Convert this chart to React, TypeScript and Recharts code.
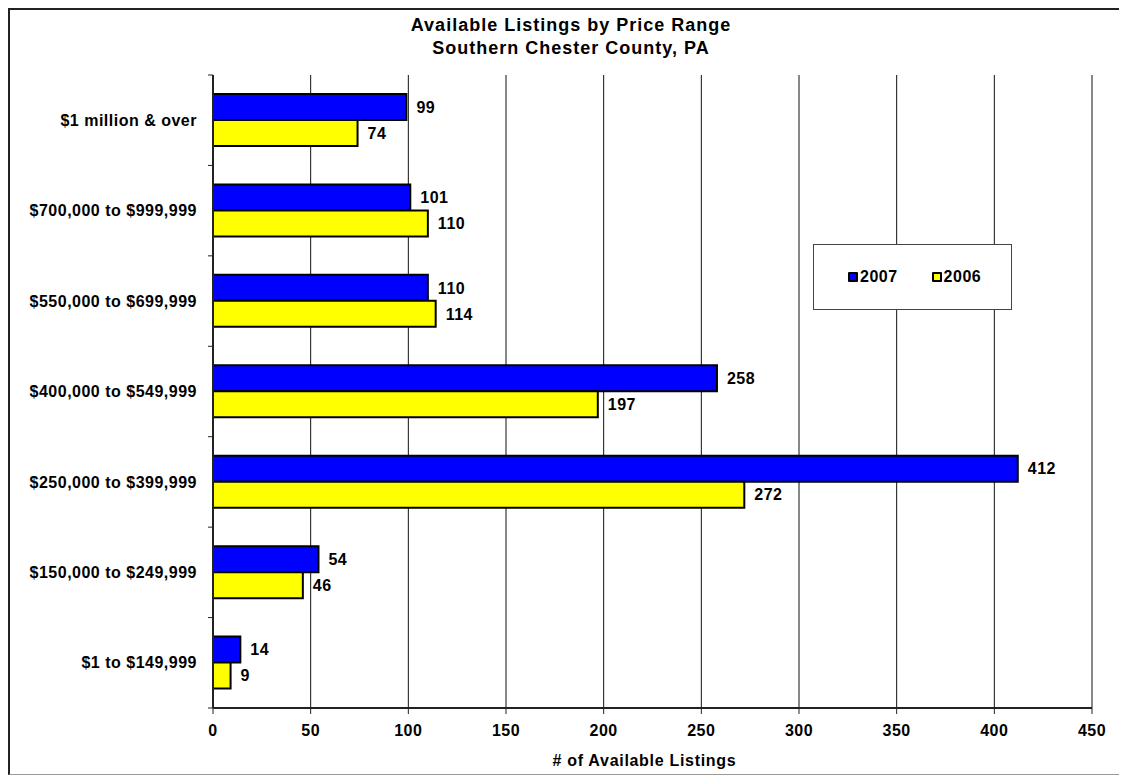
import React from 'react';
import { BarChart, Bar, XAxis, YAxis, CartesianGrid, Legend, LabelList } from 'recharts';

const categories = [
  '$1 million & over',
  '$700,000 to $999,999',
  '$550,000 to $699,999',
  '$400,000 to $549,999',
  '$250,000 to $399,999',
  '$150,000 to $249,999',
  '$1 to $149,999',
];
const values2007 = [99, 101, 110, 258, 412, 54, 14];
const values2006 = [74, 110, 114, 197, 272, 46, 9];
const xTicks = [0, 50, 100, 150, 200, 250, 300, 350, 400, 450];
const seriesNames = ['2007', '2006'];
const seriesColors = ['#0000FF', '#FFFF00'];

const data = categories.map((c, i) => ({ category: c, y2007: values2007[i], y2006: values2006[i] }));

const FONT = 'Arial, "Liberation Sans", Helvetica, sans-serif';
const TXT = { fontFamily: FONT, fontSize: 16, fontWeight: 'bold', fill: '#000', letterSpacing: 0.5 } as any;
const W = 1119;
const H = 767;
const MARGIN = { top: 67, right: 35, left: 5, bottom: 7 };
const Y_AXIS_W = 200;
const X_AXIS_H = 60;
const PLOT_H = H - MARGIN.top - MARGIN.bottom - X_AXIS_H;
const HALF_BAND = PLOT_H / categories.length / 2;

const CategoryTick = (props: any) => {
  const { x, y, payload, index } = props;
  const axisX = x + 16;
  return (
    <g>
      <line x1={axisX - 5} x2={axisX} y1={y - HALF_BAND} y2={y - HALF_BAND} stroke="#222" strokeWidth={1} />
      {index === categories.length - 1 && (
        <line x1={axisX - 5} x2={axisX} y1={y + HALF_BAND} y2={y + HALF_BAND} stroke="#222" strokeWidth={1} />
      )}
      <text x={x} y={y} dy="0.35em" textAnchor="end" style={TXT}>
        {payload.value}
      </text>
    </g>
  );
};

const LegendContent = () => (
  <div
    style={{
      width: 199,
      height: 66,
      boxSizing: 'border-box',
      border: '1px solid #444',
      background: '#fff',
      display: 'flex',
      alignItems: 'center',
      fontFamily: FONT,
      fontSize: 16,
      fontWeight: 'bold',
      letterSpacing: 0.5,
      color: '#000',
      paddingLeft: 34,
    }}
  >
    {seriesNames.map((n, i) => (
      <div key={n} style={{ display: 'flex', alignItems: 'center', marginRight: i === 0 ? 34 : 0 }}>
        <span
          style={{
            display: 'inline-block',
            width: 6,
            height: 6,
            background: seriesColors[i],
            border: '2px solid #000',
            borderRadius: 1,
            marginRight: 2,
          }}
        />
        <span>{n}</span>
      </div>
    ))}
  </div>
);

export default function App() {
  return (
    <div style={{ position: 'relative', width: W, height: H, background: '#fff' }}>
      <div
        style={{
          position: 'absolute',
          left: 0,
          top: 0,
          width: W,
          height: H,
          boxSizing: 'border-box',
          borderTop: '2px solid #222',
          borderLeft: '2px solid #222',
          borderBottom: '1px solid #999',
          pointerEvents: 'none',
          zIndex: 2,
        }}
      />
      <div
        style={{
          position: 'absolute',
          left: 0,
          width: 1126,
          top: 6,
          textAlign: 'center',
          fontFamily: FONT,
          fontSize: 18,
          fontWeight: 'bold',
          letterSpacing: 1,
          lineHeight: '23px',
          color: '#000',
          zIndex: 3,
        }}
      >
        Available Listings by Price Range
        <br />
        Southern Chester County, PA
      </div>
      <BarChart
        width={W}
        height={H}
        data={data}
        layout="vertical"
        margin={MARGIN}
        barGap={0}
        barCategoryGap="21%"
      >
        <CartesianGrid horizontal={false} vertical={true} stroke="#111" strokeWidth={1} />
        <XAxis
          type="number"
          domain={[0, 450]}
          ticks={xTicks}
          interval={0}
          height={X_AXIS_H}
          axisLine={{ stroke: '#222', strokeWidth: 2 }}
          tickLine={{ stroke: '#222', strokeWidth: 1 }}
          tickSize={6}
          tickMargin={11}
          tick={TXT}
          label={{
            value: '# of Available Listings',
            position: 'insideBottom',
            offset: 2,
            dx: -8,
            style: { ...TXT, letterSpacing: 0.7 },
          }}
        />
        <XAxis
          xAxisId="top"
          type="number"
          orientation="top"
          domain={[0, 450]}
          height={0}
          tick={false}
          tickLine={false}
          axisLine={{ stroke: '#888', strokeWidth: 2 }}
        />
        <YAxis
          type="category"
          dataKey="category"
          width={Y_AXIS_W}
          axisLine={{ stroke: '#222', strokeWidth: 2 }}
          tickLine={false}
          tick={<CategoryTick />}
          tickMargin={10}
          interval={0}
        />
        <YAxis
          yAxisId="right"
          type="number"
          orientation="right"
          width={0}
          tick={false}
          tickLine={false}
          axisLine={{ stroke: '#888', strokeWidth: 3 }}
        />
        <Legend
          layout="horizontal"
          verticalAlign="middle"
          align="center"
          content={<LegendContent />}
          wrapperStyle={{ left: 805, top: 236, width: 199, height: 66 }}
        />
        <Bar dataKey="y2007" name="2007" fill={seriesColors[0]} stroke="#000" strokeWidth={2} isAnimationActive={false}>
          <LabelList dataKey="y2007" position="right" offset={10} style={TXT} />
        </Bar>
        <Bar dataKey="y2006" name="2006" fill={seriesColors[1]} stroke="#000" strokeWidth={2} isAnimationActive={false}>
          <LabelList dataKey="y2006" position="right" offset={10} style={TXT} />
        </Bar>
      </BarChart>
    </div>
  );
}
